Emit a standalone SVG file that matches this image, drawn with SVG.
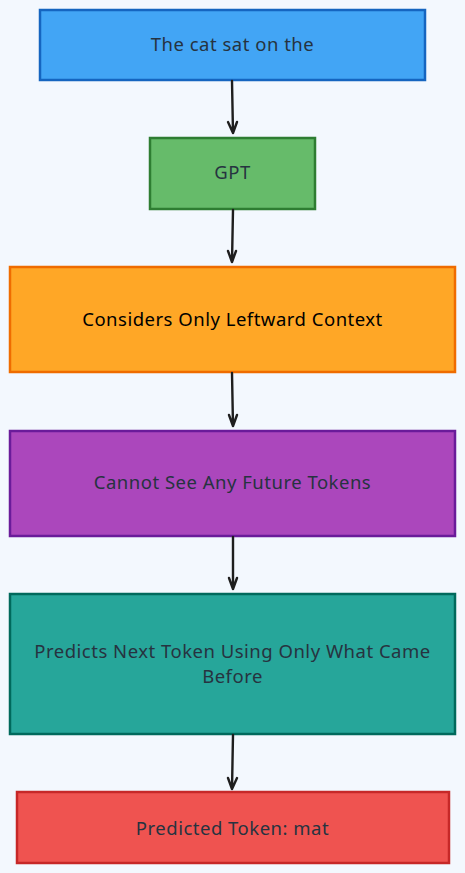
<svg xmlns="http://www.w3.org/2000/svg" width="465" height="873" viewBox="0 0 465 873">
<style>
.n rect{stroke-width:2.5}
.t{font-family:"Noto Sans","Open Sans",sans-serif;font-size:18.5px;letter-spacing:0.5px;fill:#263340;text-anchor:middle;dominant-baseline:central}
.e path{fill:none;stroke:#1e1e1e;stroke-width:2.4;stroke-linecap:round;stroke-linejoin:round}
</style>
<rect width="465" height="873" fill="#f3f8fe"/>
<g id="n1" class="n"><rect x="40" y="10" width="385" height="70" fill="#42a5f5" stroke="#1565c0"/><text class="t" x="232.5" y="43.5">The cat sat on the</text></g>
<g id="n2" class="n"><rect x="150" y="138" width="165" height="71" fill="#66bb6a" stroke="#2e7d32"/><text class="t" x="232.5" y="171.5">GPT</text></g>
<g id="n3" class="n"><rect x="10" y="267" width="445" height="105" fill="#ffa726" stroke="#ef6c00"/><text class="t" x="232.5" y="318" style="fill:#000">Considers Only Leftward Context</text></g>
<g id="n4" class="n"><rect x="10" y="431" width="445" height="105" fill="#ab47bc" stroke="#6a1b9a"/><text class="t" x="232.5" y="481.5">Cannot See Any Future Tokens</text></g>
<g id="n5" class="n"><rect x="10" y="594" width="445" height="140" fill="#26a69a" stroke="#00695c"/><text class="t" x="232.5" y="650.5">Predicts Next Token Using Only What Came</text><text class="t" x="232.5" y="675.5">Before</text></g>
<g id="n6" class="n"><rect x="17" y="792" width="432" height="71" fill="#ef5350" stroke="#c62828"/><text class="t" x="232.5" y="827">Predicted Token: mat</text></g>
<g id="edges" class="e">
<path d="M232 81 L233 133 M228 122 L233 133 L237 122"/>
<path d="M233 210 L232 262 M228 251 L232 262 L236 251"/>
<path d="M232 373 L233 426 M229 415 L233 426 L237 415"/>
<path d="M233 537 L233 589 M229 578 L233 589 L237 578"/>
<path d="M233 735 L232 789 M228 778 L232 789 L237 778"/>
</g>
</svg>
